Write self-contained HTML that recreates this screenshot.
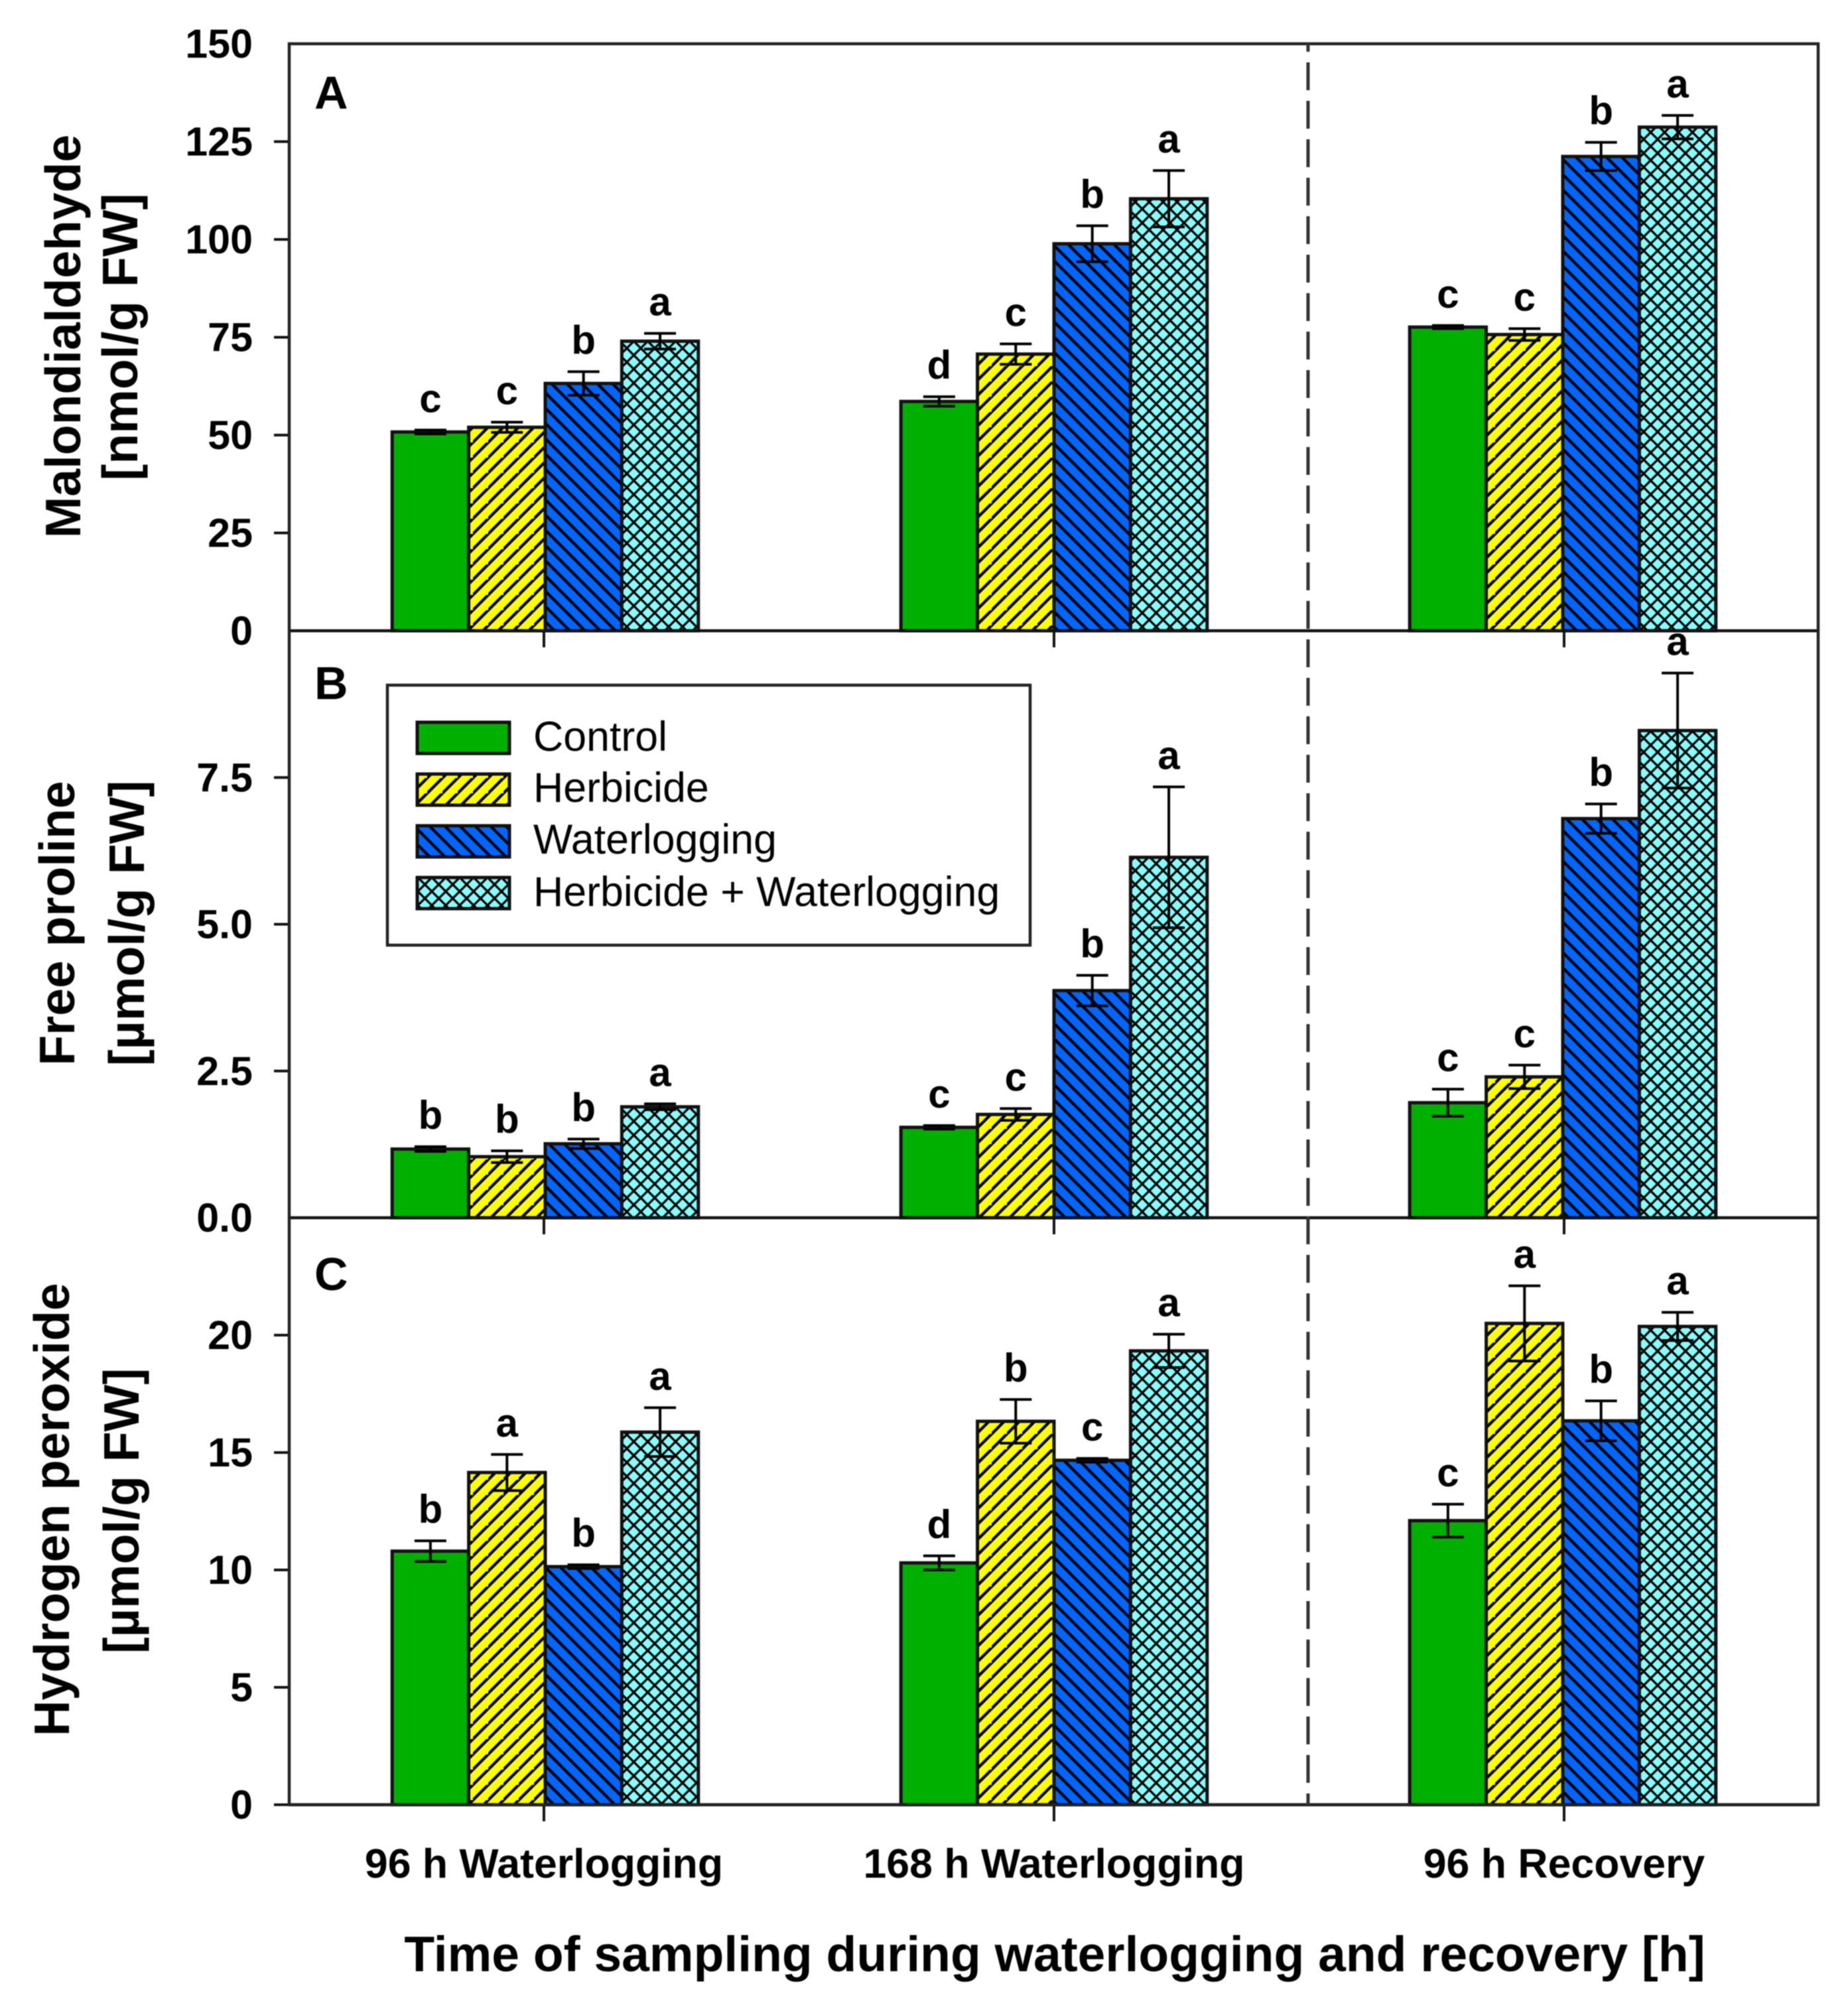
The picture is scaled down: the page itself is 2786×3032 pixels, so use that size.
<!DOCTYPE html>
<html lang="en">
<head>
<meta charset="utf-8">
<title>Malondialdehyde, free proline and hydrogen peroxide under herbicide and waterlogging</title>
<style>
  html, body { margin: 0; padding: 0; background: #fff; }
  #chart { display: block; width: 2786px; height: 3032px; font-family: "Liberation Sans", Arial, sans-serif; filter: blur(0.9px); }
  .bold { font-weight: 700; fill: #000; }
</style>
</head>
<body>
<svg id="chart" xmlns="http://www.w3.org/2000/svg" width="2786" height="3032" viewBox="0 0 2786 3032">
  <defs>
    <pattern id="hatch-fwd" patternUnits="userSpaceOnUse" width="23" height="23">
      <rect width="23" height="23" fill="#ffff00"/>
      <path d="M-6 6 L6 -6 M-6 29 L29 -6" stroke="#000" stroke-width="4.4" fill="none"/>
    </pattern>
    <pattern id="hatch-back" patternUnits="userSpaceOnUse" width="23" height="23">
      <rect width="23" height="23" fill="#0066ff"/>
      <path d="M-6 -6 L29 29 M17 -6 L29 6 M-6 17 L6 29" stroke="#000" stroke-width="4.4" fill="none"/>
    </pattern>
    <pattern id="hatch-cross" patternUnits="userSpaceOnUse" width="21" height="21">
      <rect width="21" height="21" fill="#88ffff"/>
      <path d="M-5 -5 L26 26 M16 -5 L26 5 M-5 16 L5 26 M-5 26 L26 -5 M-5 5 L5 -5 M16 26 L26 16" stroke="#000" stroke-width="3.3" fill="none"/>
    </pattern>
  </defs>

  <rect x="0" y="0" width="2786" height="3032" fill="#fff"/>
  <g id="plot-layer"></g>

  <text class="bold" x="474" y="164" font-size="70">A</text>
  <text class="bold" x="474" y="1054" font-size="70">B</text>
  <text class="bold" x="474" y="1945" font-size="70">C</text>

  <text class="bold" transform="translate(121,507) rotate(-90)" text-anchor="middle" font-size="75">Malondialdehyde</text>
  <text class="bold" transform="translate(207,508) rotate(-90)" text-anchor="middle" font-size="75">[nmol/g FW]</text>
  <text class="bold" transform="translate(112,1392) rotate(-90)" text-anchor="middle" font-size="75">Free proline</text>
  <text class="bold" transform="translate(217,1392) rotate(-90)" text-anchor="middle" font-size="75">[µmol/g FW]</text>
  <text class="bold" transform="translate(104,2276) rotate(-90)" text-anchor="middle" font-size="75">Hydrogen peroxide</text>
  <text class="bold" transform="translate(209,2278) rotate(-90)" text-anchor="middle" font-size="75">[µmol/g FW]</text>

  <text class="bold" x="1590" y="2972" text-anchor="middle" font-size="75">Time of sampling during waterlogging and recovery [h]</text>

  <g id="legend">
    <rect x="584" y="1033" width="969" height="392" fill="#fff" stroke="#222" stroke-width="4.5"/>
    <g>
      <rect x="629" y="1089" width="139" height="47" fill="#00b000" stroke="#111" stroke-width="5"/>
      <text x="804" y="1132" font-size="62.7">Control</text>
    </g>
    <g>
      <rect x="629" y="1167" width="139" height="47" fill="url(#hatch-fwd)" stroke="#111" stroke-width="5"/>
      <text x="804" y="1209" font-size="62.7">Herbicide</text>
    </g>
    <g>
      <rect x="629" y="1245" width="139" height="47" fill="url(#hatch-back)" stroke="#111" stroke-width="5"/>
      <text x="804" y="1287" font-size="62.7">Waterlogging</text>
    </g>
    <g>
      <rect x="629" y="1323" width="139" height="47" fill="url(#hatch-cross)" stroke="#111" stroke-width="5"/>
      <text x="804" y="1366" font-size="62.7">Herbicide + Waterlogging</text>
    </g>
  </g>
</svg>

<script>
const categories = ['96 h Waterlogging', '168 h Waterlogging', '96 h Recovery'];
const seriesNames = ['control', 'herbicide', 'waterlogging', 'herbicide-waterlogging'];

const aTickLabels = ['0', '25', '50', '75', '100', '125', '150'];
const bTickLabels = ['0.0', '2.5', '5.0', '7.5'];
const cTickLabels = ['0', '5', '10', '15', '20'];

const aControl = [50.8, 58.6, 77.6];
const aHerbicide = [52, 70.7, 75.7];
const aWaterlogging = [63.2, 98.9, 121.2];
const aCombined = [74, 110.4, 128.7];
const aControlErr = [0.5, 1.2, 0.4];
const aHerbicideErr = [1.3, 2.6, 1.5];
const aWaterloggingErr = [3, 4.6, 3.6];
const aCombinedErr = [2, 7.2, 3];
const aLetters = ['c', 'c', 'b', 'a', 'd', 'c', 'b', 'a', 'c', 'c', 'b', 'a'];

const bControl = [1.17, 1.54, 1.96];
const bHerbicide = [1.04, 1.76, 2.4];
const bWaterlogging = [1.26, 3.87, 6.8];
const bCombined = [1.89, 6.14, 8.3];
const bControlErr = [0.04, 0.03, 0.23];
const bHerbicideErr = [0.1, 0.1, 0.2];
const bWaterloggingErr = [0.08, 0.26, 0.25];
const bCombinedErr = [0.05, 1.2, 0.98];
const bLetters = ['b', 'b', 'b', 'a', 'c', 'c', 'b', 'a', 'c', 'c', 'b', 'a'];

const cControl = [10.8, 10.3, 12.1];
const cHerbicide = [14.15, 16.33, 20.5];
const cWaterlogging = [10.14, 14.67, 16.35];
const cCombined = [15.87, 19.33, 20.37];
const cControlErr = [0.44, 0.3, 0.7];
const cHerbicideErr = [0.77, 0.93, 1.6];
const cWaterloggingErr = [0.08, 0.08, 0.85];
const cCombinedErr = [1.04, 0.71, 0.6];
const cLetters = ['b', 'a', 'b', 'a', 'd', 'b', 'c', 'a', 'c', 'a', 'b', 'a'];

const NS = 'http://www.w3.org/2000/svg';
const layer = document.getElementById('plot-layer');
const fills = ['#00b000', 'url(#hatch-fwd)', 'url(#hatch-back)', 'url(#hatch-cross)'];
const plotLeft = 436;
const plotRight = 2741;
const panelHeight = 885;
const barWidth = 115.4;
const dashX = 1972;

function xTick(i) { return 820 + 769 * i; }
function xCenter(i) { return 822 + 767 * i; }
function xBar(i, s) { return xCenter(i) + (s - 2) * barWidth; }
function yScale(top, max) {
  return function (v) { return top + panelHeight - (v / max) * panelHeight; };
}
function make(tag, props) {
  const el = document.createElementNS(NS, tag);
  Object.keys(props).forEach(function (k) { el.setAttribute(k, props[k]); });
  return el;
}

const panels = [
  { id: 'a', top: 66, max: 150, ticks: aTickLabels, zeroTick: false,
    values: [aControl, aHerbicide, aWaterlogging, aCombined],
    errors: [aControlErr, aHerbicideErr, aWaterloggingErr, aCombinedErr], letters: aLetters },
  { id: 'b', top: 951, max: 10, ticks: bTickLabels, zeroTick: false,
    values: [bControl, bHerbicide, bWaterlogging, bCombined],
    errors: [bControlErr, bHerbicideErr, bWaterloggingErr, bCombinedErr], letters: bLetters },
  { id: 'c', top: 1836, max: 25, ticks: cTickLabels, zeroTick: true,
    values: [cControl, cHerbicide, cWaterlogging, cCombined],
    errors: [cControlErr, cHerbicideErr, cWaterloggingErr, cCombinedErr], letters: cLetters }
];

panels.forEach(function (p) {
  const y = yScale(p.top, p.max);
  const base = y(0);

  const group = make('g', {});
  
  
  layer.appendChild(group);

  categories.forEach(function (cat, i) {
    seriesNames.forEach(function (name, s) {
      const v = p.values[s][i];
      const bar = make('rect', {
        x: xBar(i, s), y: y(v), width: barWidth, height: base - y(v),
        fill: fills[s], stroke: '#111', 'stroke-width': 5
      });
      
      
      group.appendChild(bar);
    });
    seriesNames.forEach(function (name, s) {
      const v = p.values[s][i];
      const e = p.errors[s][i];
      const cx = xBar(i, s) + barWidth / 2;
      const d = 'M' + cx + ' ' + y(v + e) + ' L' + cx + ' ' + y(v - e) +
        ' M' + (cx - 24) + ' ' + y(v + e) + ' L' + (cx + 24) + ' ' + y(v + e) +
        ' M' + (cx - 24) + ' ' + y(v - e) + ' L' + (cx + 24) + ' ' + y(v - e);
      const err = make('path', { d: d, stroke: '#000', 'stroke-width': 4, fill: 'none' });
      
      
      group.appendChild(err);

      const letter = make('text', {
        x: cx, y: y(v + e) - 27, 'text-anchor': 'middle', 'font-size': 60,
        'font-weight': 700, fill: '#000'
      });
      letter.textContent = p.letters[i * 4 + s];
      
      
      group.appendChild(letter);
    });
  });

  // baseline
  const axis = make('line', { x1: plotLeft, x2: plotRight, y1: base, y2: base, stroke: '#111', 'stroke-width': 4.5 });
  
  
  group.appendChild(axis);

  // x ticks
  categories.forEach(function (cat, i) {
    const tick = make('line', { x1: xTick(i), x2: xTick(i), y1: base, y2: base + 25, stroke: '#111', 'stroke-width': 4 });
    
    
    group.appendChild(tick);
  });

  // y ticks and labels
  p.ticks.forEach(function (label) {
    const v = parseFloat(label);
    const ty = y(v);
    if ((v > 0 && v < p.max) || (v === 0 && p.zeroTick)) {
      const tick = make('line', { x1: 413, x2: plotLeft, y1: ty, y2: ty, stroke: '#111', 'stroke-width': 4 });
      
      
      group.appendChild(tick);
    }
    const text = make('text', {
      x: 381, y: ty + 21, 'text-anchor': 'end', 'font-size': 61, 'font-weight': 700, fill: '#000'
    });
    text.textContent = label;
    
    
    group.appendChild(text);
  });
});

// outer frame
const frame = make('rect', { x: plotLeft, y: 66, width: plotRight - plotLeft, height: panelHeight * 3, fill: 'none', stroke: '#222', 'stroke-width': 4.5 });


layer.appendChild(frame);

// separator between waterlogging and recovery
const separator = make('line', { x1: dashX, x2: dashX, y1: 66, y2: 66 + panelHeight * 3, stroke: '#333', 'stroke-width': 5, 'stroke-dasharray': '42 16', 'stroke-dashoffset': 30 });


layer.appendChild(separator);

// category labels
categories.forEach(function (cat, i) {
  const label = make('text', {
    x: xTick(i), y: 2831, 'text-anchor': 'middle', 'font-size': 62.6, 'font-weight': 700, fill: '#000'
  });
  label.textContent = cat;
  
  
  layer.appendChild(label);
});
</script>
</body>
</html>
